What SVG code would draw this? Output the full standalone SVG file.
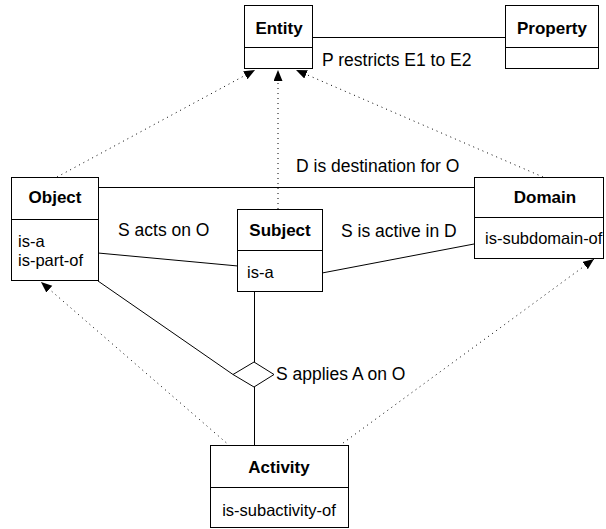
<svg xmlns="http://www.w3.org/2000/svg" width="606" height="529" viewBox="0 0 606 529">
<style>
.box{fill:#fff;stroke:#000;stroke-width:1}
.ln{fill:none;stroke:#000;stroke-width:1}
.dot{fill:none;stroke:#000;stroke-width:1;stroke-dasharray:1 4}
text{font-family:"Liberation Sans",Arial,sans-serif;font-size:16.5px;fill:#000}
.lbl{font-size:17.5px}
.b{font-weight:bold;font-size:17px}
.c{text-anchor:middle}
</style>
<defs>
<marker id="ah" markerUnits="userSpaceOnUse" markerWidth="12" markerHeight="10" refX="11" refY="4.5" orient="auto">
<path d="M0,0 L11,4.5 L0,9 z" fill="#000"/>
</marker>
</defs>
<rect width="606" height="529" fill="#fff"/>
<g id="connectors">
<line class="ln" x1="312" y1="37.5" x2="505" y2="37.5"/>
<line class="ln" x1="98" y1="187.5" x2="474" y2="187.5"/>
<line class="ln" x1="98" y1="253" x2="238" y2="266"/>
<line class="ln" x1="322" y1="273" x2="474" y2="244"/>
<line class="ln" x1="98" y1="281" x2="233" y2="374.5"/>
<line class="ln" x1="254.5" y1="291" x2="254.5" y2="362"/>
<line class="ln" x1="254.5" y1="387" x2="254.5" y2="446"/>
<polygon class="box" points="254,362 274,374.5 254,387 233,374.5"/>
<line class="dot" x1="57" y1="177" x2="255" y2="70" marker-end="url(#ah)"/>
<line class="dot" x1="278" y1="209" x2="278" y2="70" marker-end="url(#ah)"/>
<line class="dot" x1="543" y1="177" x2="296" y2="70" marker-end="url(#ah)"/>
<line class="dot" x1="230" y1="446" x2="41" y2="282" marker-end="url(#ah)"/>
<line class="dot" x1="339" y1="446" x2="594" y2="259" marker-end="url(#ah)"/>
<text class="lbl" x="322" y="66">P restricts E1 to E2</text>
<text class="lbl" x="296" y="172">D is destination for O</text>
<text class="lbl" x="118" y="236">S acts on O</text>
<text class="lbl" x="341" y="237">S is active in D</text>
<text class="lbl" x="276" y="380">S applies A on O</text>
</g>
<g id="entity">
<rect class="box" x="244.5" y="5.5" width="68" height="63"/>
<line class="ln" x1="244.5" y1="47.5" x2="312.5" y2="47.5"/>
<text class="b c" x="279" y="34">Entity</text>
</g>
<g id="property">
<rect class="box" x="505.5" y="5.5" width="93" height="63"/>
<line class="ln" x1="505.5" y1="47.5" x2="598.5" y2="47.5"/>
<text class="b c" x="552" y="34">Property</text>
</g>
<g id="object">
<rect class="box" x="11.5" y="177.5" width="87" height="103"/>
<line class="ln" x1="11.5" y1="219.5" x2="98.5" y2="219.5"/>
<text class="b c" x="55" y="203">Object</text>
<text x="18" y="247">is-a</text>
<text x="18" y="266">is-part-of</text>
</g>
<g id="subject">
<rect class="box" x="237.5" y="209.5" width="85" height="82"/>
<line class="ln" x1="237.5" y1="250.5" x2="322.5" y2="250.5"/>
<text class="b c" x="280" y="236">Subject</text>
<text x="247" y="278">is-a</text>
</g>
<g id="domain">
<rect class="box" x="474.5" y="177.5" width="129" height="81"/>
<line class="ln" x1="474.5" y1="217.5" x2="603.5" y2="217.5"/>
<text class="b c" x="545" y="203">Domain</text>
<text x="485" y="244">is-subdomain-of</text>
</g>
<g id="activity">
<rect class="box" x="210.5" y="445.5" width="138" height="82"/>
<line class="ln" x1="210.5" y1="487.5" x2="348.5" y2="487.5"/>
<text class="b c" x="279" y="473">Activity</text>
<text class="c" x="279" y="516">is-subactivity-of</text>
</g>
</svg>
